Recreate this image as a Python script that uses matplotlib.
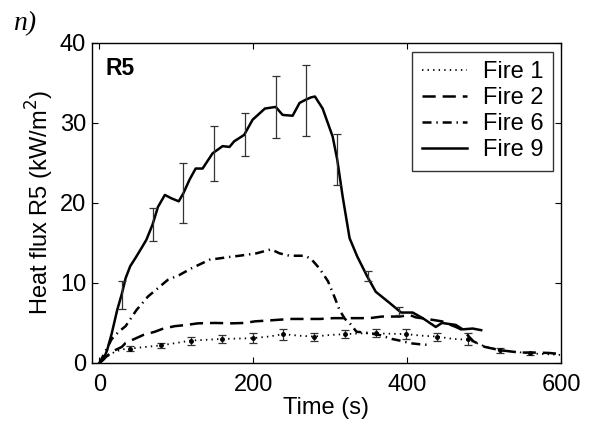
import matplotlib
matplotlib.use("Agg")
import matplotlib.pyplot as plt

plt.rcParams['font.family'] = ['Liberation Sans', 'DejaVu Sans']
plt.rcParams['lines.scale_dashes'] = False

# Fire 1 (dotted line + markers with error bars)
fire1_t = [0, 10, 20, 30, 40, 60, 80, 100, 119, 140, 159, 180, 199, 220, 239, 260, 279, 300,
           319, 340, 359, 380, 398, 420, 438, 460, 479, 500, 520, 540, 559, 580, 600]
fire1_q = [0, 0.8, 1.4, 1.7, 1.8, 2.0, 2.2, 2.5, 2.8, 2.9, 3.0, 3.05, 3.1, 3.3, 3.6, 3.4, 3.3, 3.5,
           3.6, 3.7, 3.7, 3.65, 3.6, 3.4, 3.3, 3.0, 2.9, 2.1, 1.6, 1.4, 1.2, 1.1, 1.0]
fire1_err_t = [40, 80, 119, 159, 199, 239, 279, 319, 359, 398, 438, 479, 520, 559]
fire1_err_q = [1.8, 2.2, 2.8, 3.0, 3.1, 3.6, 3.3, 3.6, 3.7, 3.6, 3.3, 3.0, 1.6, 1.2]
fire1_err = [0.3, 0.3, 0.5, 0.5, 0.6, 0.7, 0.5, 0.5, 0.5, 0.6, 0.5, 0.75, 0.3, 0.2]

# Fire 2 (dashed)
fire2_t = [0, 16, 29, 34, 57, 72, 83, 98, 113, 128, 150, 172, 189, 202, 219, 233, 250, 262,
           287, 304, 322, 336, 351, 367, 381, 390, 403, 411, 432, 445, 463, 472, 486, 501,
           520, 546, 563, 584, 600]
fire2_q = [0, 1.4, 2.0, 2.5, 3.5, 3.9, 4.3, 4.6, 4.75, 4.95, 5.0, 4.95, 5.0, 5.2, 5.3, 5.4, 5.5, 5.5,
           5.5, 5.6, 5.6, 5.6, 5.6, 5.8, 5.8, 5.8, 6.0, 5.7, 5.4, 5.2, 4.5, 4.1, 2.7, 2.0,
           1.6, 1.3, 1.3, 1.25, 1.1]

# Fire 6 (dash-dot)
fire6_t = [0, 8, 16, 25, 34, 48, 63, 89, 104, 119, 143, 173, 182, 204, 223, 234, 247, 267, 275,
           286, 297, 306, 312, 319, 325, 334, 345, 364, 380, 390, 405, 420, 430]
fire6_q = [0, 1.5, 3.0, 3.9, 4.6, 6.6, 8.3, 10.4, 11.0, 11.8, 12.9, 13.3, 13.4, 13.7, 14.2, 13.7,
           13.4, 13.4, 13.0, 11.8, 10.2, 8.1, 6.6, 5.5, 5.0, 3.9, 3.8, 3.5, 3.0, 2.8, 2.45, 2.3, 2.25]

# Fire 9 (solid with error bars)
fire9_t = [0, 5, 10, 16, 23, 29, 34, 40, 46, 53, 61, 69, 76, 85, 93, 103, 109, 117, 125, 134, 147,
           160, 169, 175, 188, 199, 215, 229, 238, 251, 260, 268, 275, 280, 290, 303, 309, 316,
           325, 335, 348, 359, 377, 392, 407, 420, 437, 445, 463, 472, 485, 496]
fire9_q = [0, 0.4, 1.6, 3.7, 6.6, 8.6, 10.6, 12.1, 13.0, 14.1, 15.4, 17.3, 19.5, 21.0, 20.6, 20.2,
           21.2, 22.9, 24.3, 24.3, 26.2, 27.1, 27.0, 27.7, 28.5, 30.4, 31.8, 32.0, 31.0, 30.9,
           32.5, 32.9, 33.2, 33.3, 31.8, 28.3, 25.4, 20.8, 15.6, 13.3, 10.8, 8.9, 7.5, 6.3, 6.3,
           5.6, 4.5, 5.0, 4.75, 4.2, 4.3, 4.1]
fire9_err_t = [29, 69, 108, 149, 189, 229, 269, 309, 349, 389]
fire9_err_q = [8.5, 17.3, 21.2, 26.2, 28.6, 32.0, 32.8, 25.4, 10.9, 6.5]
fire9_err = [1.7, 2.1, 3.75, 3.45, 2.7, 3.85, 4.45, 3.2, 0.6, 0.55]

fig = plt.figure(figsize=(5.92, 4.25), dpi=100)
ax = fig.add_axes([0.155, 0.146, 0.793, 0.753])

lw = 1.8
ebc = '#333333'
l1, = ax.plot(fire1_t, fire1_q, color='k', lw=1.3, linestyle=(0, (1.0, 3.0)), label='Fire 1')
ax.errorbar(fire1_err_t, fire1_err_q, yerr=fire1_err, fmt='o', ms=2.5, color='k',
            ecolor=ebc, elinewidth=0.9, capsize=3, capthick=0.9)
l2, = ax.plot(fire2_t, fire2_q, color='k', lw=lw, linestyle=(0, (9.5, 5.0)), label='Fire 2')
l6, = ax.plot(fire6_t, fire6_q, color='k', lw=lw, linestyle=(0, (6.5, 3.5, 1.0, 3.5)), label='Fire 6')
l9, = ax.plot(fire9_t, fire9_q, color='k', lw=lw, linestyle='-', label='Fire 9')
ax.errorbar(fire9_err_t, fire9_err_q, yerr=fire9_err, fmt='none',
            ecolor=ebc, elinewidth=0.9, capsize=3, capthick=0.9)

ax.set_xlim(-10, 600)
ax.set_ylim(0, 40)
ax.set_xticks([0, 200, 400, 600])
ax.set_yticks([0, 10, 20, 30, 40])
ax.tick_params(direction='in', top=True, right=True, labelsize=17, length=4, width=0.8, pad=4)
ax.tick_params(axis='x', pad=8)
for s in ax.spines.values():
    s.set_linewidth(1.0)

ax.set_xlabel('Time (s)', fontsize=17, labelpad=1)
ax.set_ylabel('Heat flux R5 (kW/m$^2$)', fontsize=17, labelpad=3)

ax.text(0.03, 0.955, 'R5', transform=ax.transAxes, fontsize=16.5, fontweight='bold',
        va='top', ha='left')
fig.text(0.022, 0.945, 'n)', fontsize=20, family='Liberation Serif', style='italic',
         va='center', ha='left')

leg = ax.legend(handles=[l1, l2, l6, l9], loc='upper right', bbox_to_anchor=(0.983, 0.972),
                fontsize=17, frameon=True, fancybox=False, edgecolor='k',
                handlelength=1.9, labelspacing=0.17, borderpad=0.4, handletextpad=0.7,
                borderaxespad=0)
leg.get_frame().set_linewidth(1.0)

fig.savefig('out.png', dpi=100)
